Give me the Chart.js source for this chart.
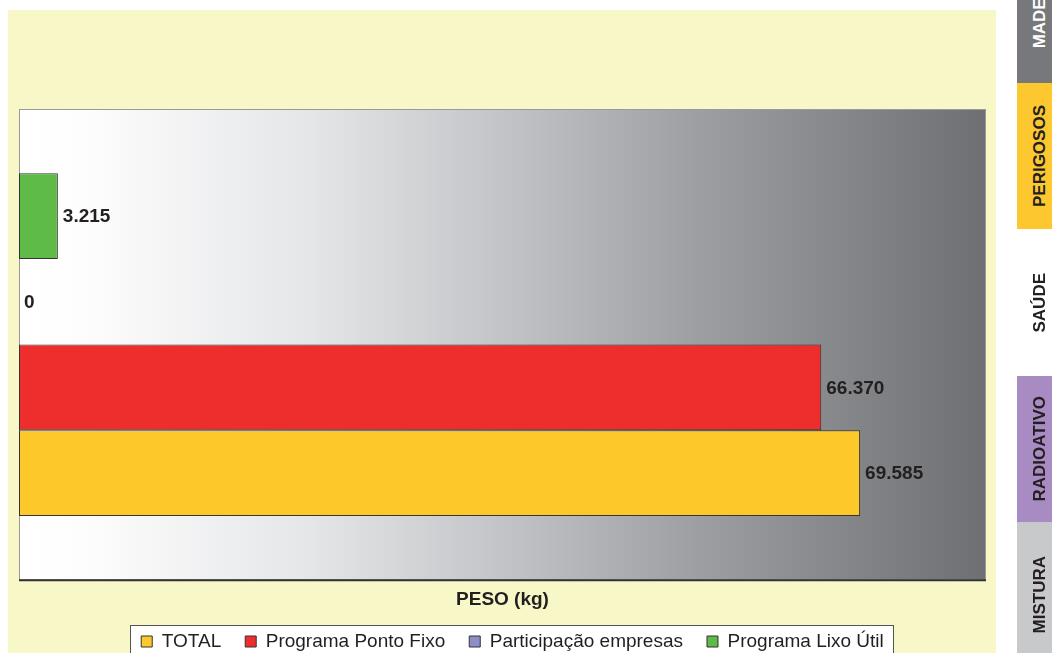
<!DOCTYPE html>
<html>
<head>
<meta charset="utf-8">
<script src="https://cdn.jsdelivr.net/npm/chart.js@4"></script>
<style>
  html, body { margin: 0; padding: 0; background: #fff; }
  body { width: 1052px; height: 653px; overflow: hidden; position: relative; font-family: "Liberation Sans", Arial, sans-serif; }
  #chart { position: absolute; left: 0; top: 0; }
  .tab { position: absolute; left: 1017px; width: 35px; display: flex; align-items: center; justify-content: center; padding-left: 11px; box-sizing: border-box; }
  .tab span { writing-mode: vertical-rl; transform: rotate(180deg); font-weight: bold; font-size: 17px; color: #231f20; white-space: nowrap; }
</style>
</head>
<body>
<canvas id="chart" width="1052" height="664"></canvas>

<div class="tab" style="top:-65px;height:148px;background:#77787b"><span style="color:#fff">MADEIRA</span></div>
<div class="tab" style="top:83px;height:146px;background:#fdc82f"><span>PERIGOSOS</span></div>
<div class="tab" style="top:229px;height:147px"><span>SAÚDE</span></div>
<div class="tab" style="top:376px;height:146px;background:#a98bc3"><span>RADIOATIVO</span></div>
<div class="tab" style="top:522px;height:146px;background:#c8c9cb"><span>MISTURA</span></div>

<script>
// Data
const categories = ["PESO (kg)"];
const seriesNames = ["Programa Lixo Útil", "Participação empresas", "Programa Ponto Fixo", "TOTAL"];
const lixoUtil = [3215];
const participacao = [0];
const pontoFixo = [66370];
const total = [69585];
const axisMax = 80000;

const FONT = '"Liberation Sans", Arial, sans-serif';

function fmt(v) {
  return String(v).replace(/\B(?=(\d{3})+(?!\d))/g, ".");
}

// yellow panel, gradient plot background, legend frame
const backdrop = {
  id: "backdrop",
  afterLayout(chart) {
    // legend sits a little right of the plot centre and a bit higher in the original
    const lg = chart.legend;
    lg.left += 10;
    lg.right += 10;
    lg.top -= 3;
    lg.bottom -= 3;
  },
  beforeDraw(chart) {
    const ctx = chart.ctx;
    const a = chart.chartArea;
    ctx.save();
    ctx.fillStyle = "#f8f7c8";
    ctx.fillRect(8, 10, 988, chart.height);

    const g = ctx.createLinearGradient(a.left, 0, a.right, 0);
    g.addColorStop(0, "#ffffff");
    g.addColorStop(0.07, "#fdfdfd");
    g.addColorStop(0.3, "#e5e6e8");
    g.addColorStop(0.5, "#c2c4c7");
    g.addColorStop(0.7, "#9d9fa2");
    g.addColorStop(0.85, "#85878b");
    g.addColorStop(1, "#6d6f73");
    ctx.fillStyle = g;
    ctx.fillRect(a.left, a.top, a.right - a.left, a.bottom - a.top);

    ctx.strokeStyle = "#9a9a9a";
    ctx.lineWidth = 1;
    ctx.strokeRect(a.left + 0.5, a.top + 0.5, a.right - a.left - 1, a.bottom - a.top - 1);
    ctx.strokeStyle = "#333";
    ctx.lineWidth = 2;
    ctx.beginPath();
    ctx.moveTo(a.left, a.bottom);
    ctx.lineTo(a.right, a.bottom);
    ctx.stroke();

    const hb = chart.legend.legendHitBoxes || [];
    if (hb.length) {
      const l = Math.min(...hb.map(h => h.left)) - 11;
      const r = Math.max(...hb.map(h => h.left + h.width)) + 9;
      const t = hb[0].top - 7;
      ctx.fillStyle = "#ffffff";
      ctx.fillRect(l, t, r - l, 60);
      ctx.strokeStyle = "#555";
      ctx.lineWidth = 1;
      ctx.strokeRect(Math.round(l) + 0.5, Math.round(t) + 0.5, Math.round(r - l), 60);
    }
    ctx.restore();
  }
};

// value labels to the right of each bar
const valueLabels = {
  id: "valueLabels",
  afterDatasetsDraw(chart) {
    const ctx = chart.ctx;
    ctx.save();
    ctx.font = "bold 19px " + FONT;
    ctx.fillStyle = "#231f20";
    ctx.textAlign = "left";
    ctx.textBaseline = "middle";
    chart.data.datasets.forEach((ds, i) => {
      chart.getDatasetMeta(i).data.forEach((el, j) => {
        ctx.fillText(fmt(ds.data[j]), el.x + 5, el.y + 1);
      });
    });
    ctx.restore();
  }
};

const ctx = document.getElementById("chart").getContext("2d");
new Chart(ctx, {
  type: "bar",
  data: {
    labels: categories,
    datasets: [
      { label: seriesNames[0], data: lixoUtil, backgroundColor: "#5ebb47" },
      { label: seriesNames[1], data: participacao, backgroundColor: "#8c8ec8" },
      { label: seriesNames[2], data: pontoFixo, backgroundColor: "#ee2e2c" },
      { label: seriesNames[3], data: total, backgroundColor: "#fdc82a" }
    ].map(d => Object.assign(d, {
      borderColor: "#333333",
      borderWidth: 1,
      borderSkipped: false,
      categoryPercentage: 0.727,
      barPercentage: 1
    }))
  },
  options: {
    indexAxis: "y",
    responsive: false,
    animation: false,
    layout: { padding: { left: 19, right: 66, top: 109, bottom: 0 } },
    plugins: {
      legend: {
        position: "bottom",
        reverse: true,
        labels: {
          boxWidth: 11,
          boxHeight: 11,
          padding: 24,
          color: "#231f20",
          font: { family: FONT, size: 19 }
        }
      },
      tooltip: { enabled: false }
    },
    scales: {
      x: {
        min: 0,
        max: axisMax,
        grid: { display: false, drawTicks: false },
        border: { display: false },
        ticks: { display: false },
        title: {
          display: true,
          text: categories[0],
          color: "#231f20",
          font: { family: FONT, size: 19, weight: "bold" },
          padding: { top: 8, bottom: 0 }
        }
      },
      y: { display: false }
    }
  },
  plugins: [backdrop, valueLabels]
});
</script>
</body>
</html>
